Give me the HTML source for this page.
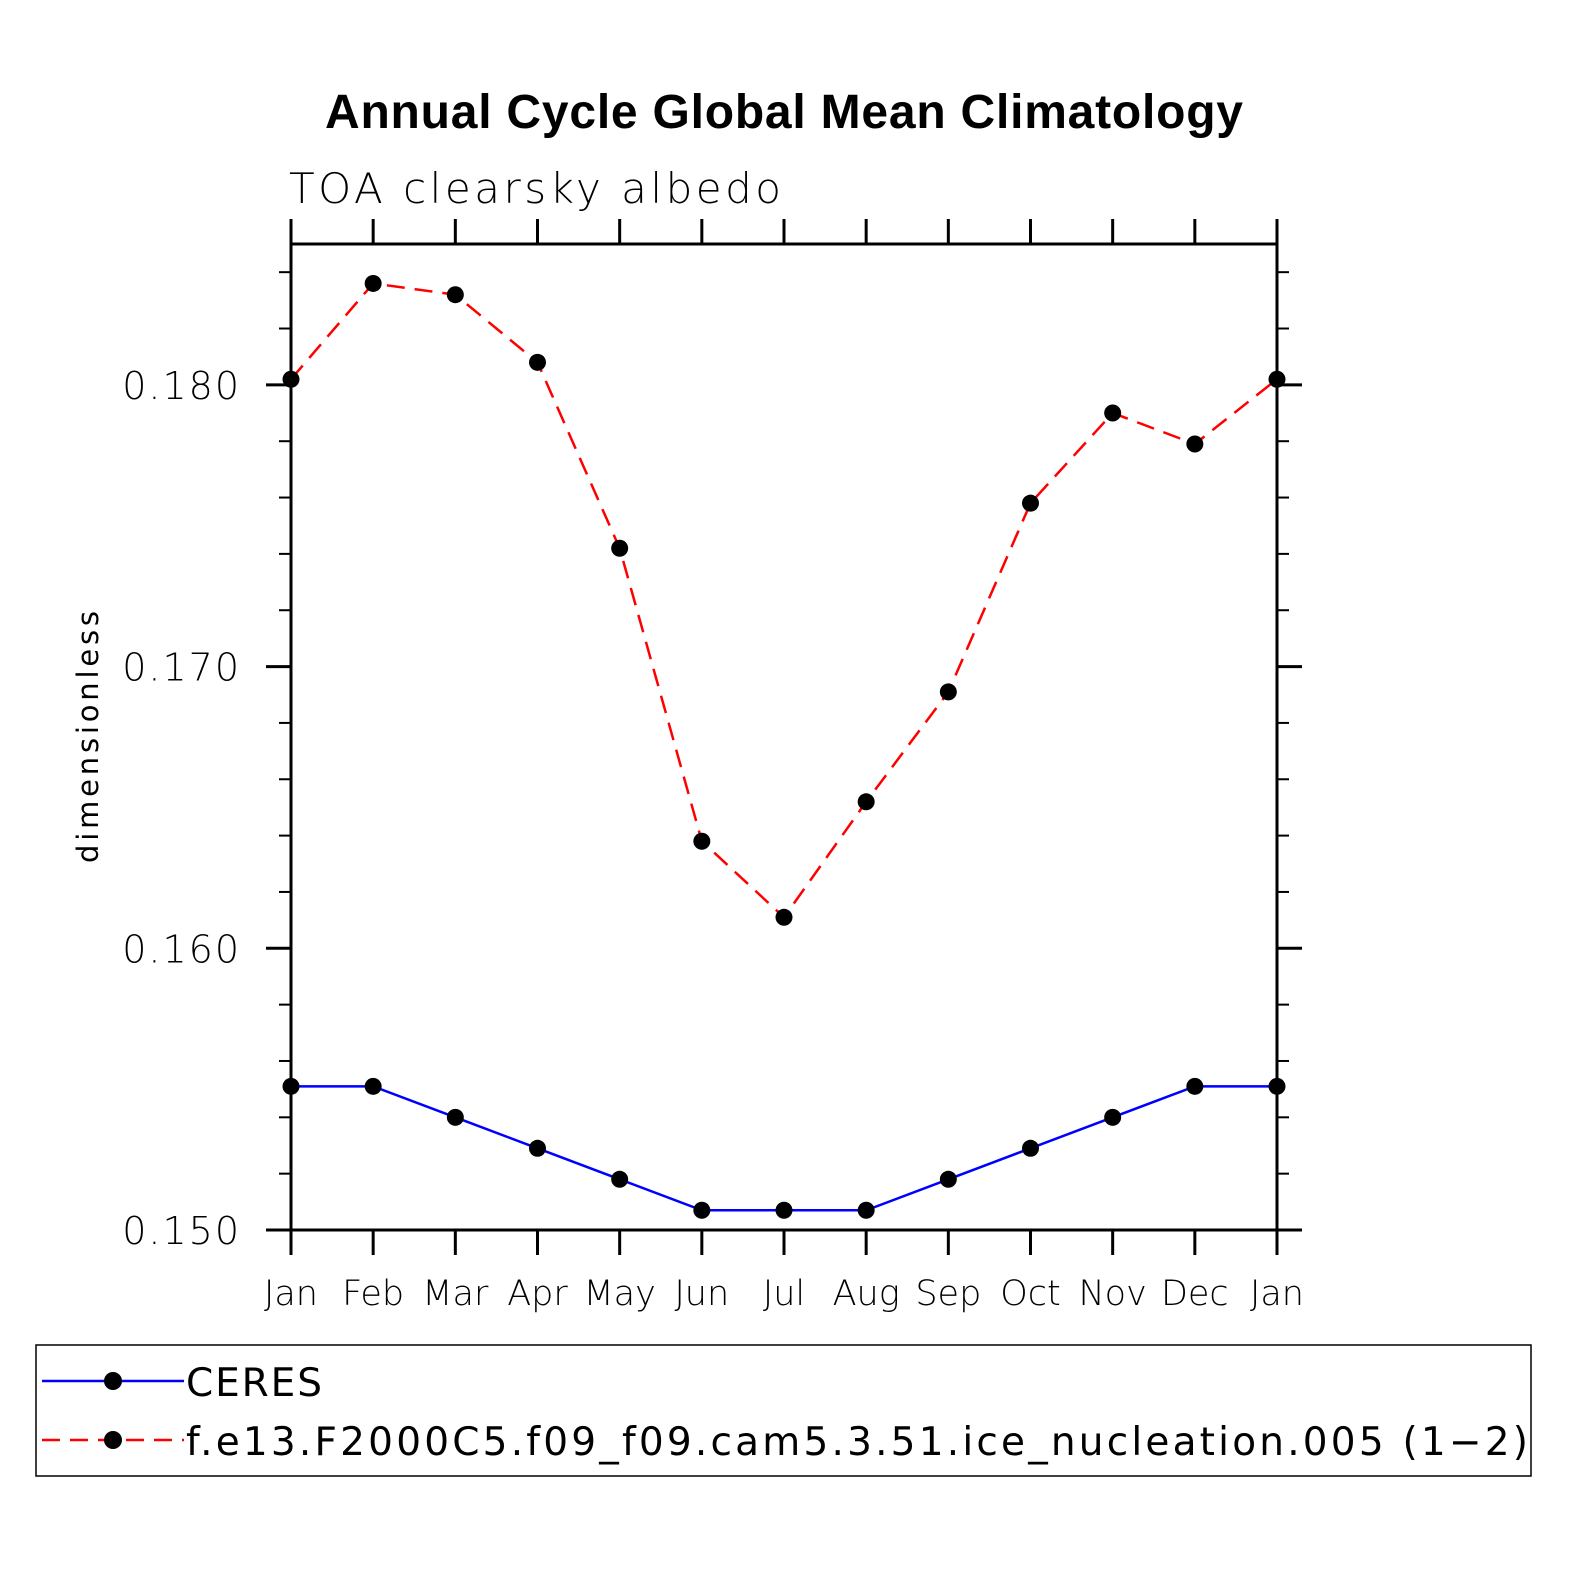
<!DOCTYPE html>
<html><head><meta charset="utf-8"><style>body{margin:0;background:#fff}svg{display:block}</style></head>
<body>
<svg id="chart" width="1574" height="1574" xmlns="http://www.w3.org/2000/svg" font-family="'DejaVu Sans','Liberation Sans',sans-serif">
<rect width="1574" height="1574" fill="#fff"/>
<text x="784" y="128" text-anchor="middle" font-family="'Liberation Sans',sans-serif" font-weight="bold" font-size="48" textLength="918">Annual Cycle Global Mean Climatology</text>
<text x="289" y="203" font-size="42" font-weight="200" textLength="492">TOA clearsky albedo</text>
<text transform="translate(98,737) rotate(-90)" text-anchor="middle" font-size="29" textLength="252">dimensionless</text>
<g id="axes"></g>
<g id="series"></g>
<g>
<rect x="36" y="1345" width="1495" height="131" fill="none" stroke="#000" stroke-width="1.5"/>
<line x1="42" y1="1381" x2="184" y2="1381" stroke="#00f" stroke-width="2.5"/>
<circle cx="113" cy="1381" r="9"/>
<text x="186" y="1396" font-size="39" textLength="136">CERES</text>
<line x1="42" y1="1440" x2="184" y2="1440" stroke="#f00" stroke-width="2.5" stroke-dasharray="18,10"/>
<circle cx="113" cy="1440" r="9"/>
<text x="186" y="1455" font-size="39" textLength="1342">f.e13.F2000C5.f09_f09.cam5.3.51.ice_nucleation.005 (1−2)</text>
</g>
</svg>
<script>
const months=["Jan","Feb","Mar","Apr","May","Jun","Jul","Aug","Sep","Oct","Nov","Dec","Jan"];
const ceres=[0.1551,0.1551,0.1540,0.1529,0.1518,0.1507,0.1507,0.1507,0.1518,0.1529,0.1540,0.1551,0.1551];
const model=[0.1802,0.1836,0.1832,0.1808,0.1742,0.1638,0.1611,0.1652,0.1691,0.1758,0.1790,0.1779,0.1802];
const yTicks=[0.150,0.160,0.170,0.180];
const yTickLabels=["0.150","0.160","0.170","0.180"];
const L=291,R=1277,T=244,B=1230,y0=0.150,y1=0.185;
const NS="http://www.w3.org/2000/svg";
const xs=i=>L+(R-L)*i/(months.length-1);
const ys=v=>B-(B-T)*(v-y0)/(y1-y0);
function mk(t,a,p){const e=document.createElementNS(NS,t);for(const k in a)e.setAttribute(k,a[k]);p.appendChild(e);return e;}
const ax=document.getElementById('axes'),sg=document.getElementById('series');
const frame=mk('rect',{x:L,y:T,width:R-L,height:B-T,fill:'none',stroke:'#000','stroke-width':3},ax);


months.forEach((m,i)=>{const x=xs(i);
mk('line',{x1:x,y1:B,x2:x,y2:B+25,stroke:'#000','stroke-width':3},ax);
mk('line',{x1:x,y1:T,x2:x,y2:T-25,stroke:'#000','stroke-width':3},ax);
const t=mk('text',{x:x,y:B+75,'text-anchor':'middle','font-size':35,'font-weight':'200'},ax);t.textContent=m;

});
for(let k=0;k<=17;k++){const v=y0+k*0.002,y=ys(v);
mk('line',{x1:L,y1:y,x2:L-12,y2:y,stroke:'#000','stroke-width':2},ax);
mk('line',{x1:R,y1:y,x2:R+12,y2:y,stroke:'#000','stroke-width':2},ax);}
yTicks.forEach((v,i)=>{const y=ys(v);
mk('line',{x1:L,y1:y,x2:L-25,y2:y,stroke:'#000','stroke-width':3},ax);
mk('line',{x1:R,y1:y,x2:R+25,y2:y,stroke:'#000','stroke-width':3},ax);
const t=mk('text',{x:241,y:y+14,'text-anchor':'end','font-size':38,'font-weight':'200','letter-spacing':2},ax);t.textContent=yTickLabels[i];

});
function series(d,col,dash,name){
const pl=mk('polyline',{points:d.map((v,i)=>xs(i)+','+ys(v)).join(' '),fill:'none',stroke:col,'stroke-width':2.5,'stroke-dasharray':dash},sg);


d.forEach((v,i)=>{const c=mk('circle',{cx:xs(i),cy:ys(v),r:8.5,fill:'#000'},sg);

});}
series(ceres,'#00f','none','ceres');
series(model,'#f00','18,10','model');
</script>
</body></html>
